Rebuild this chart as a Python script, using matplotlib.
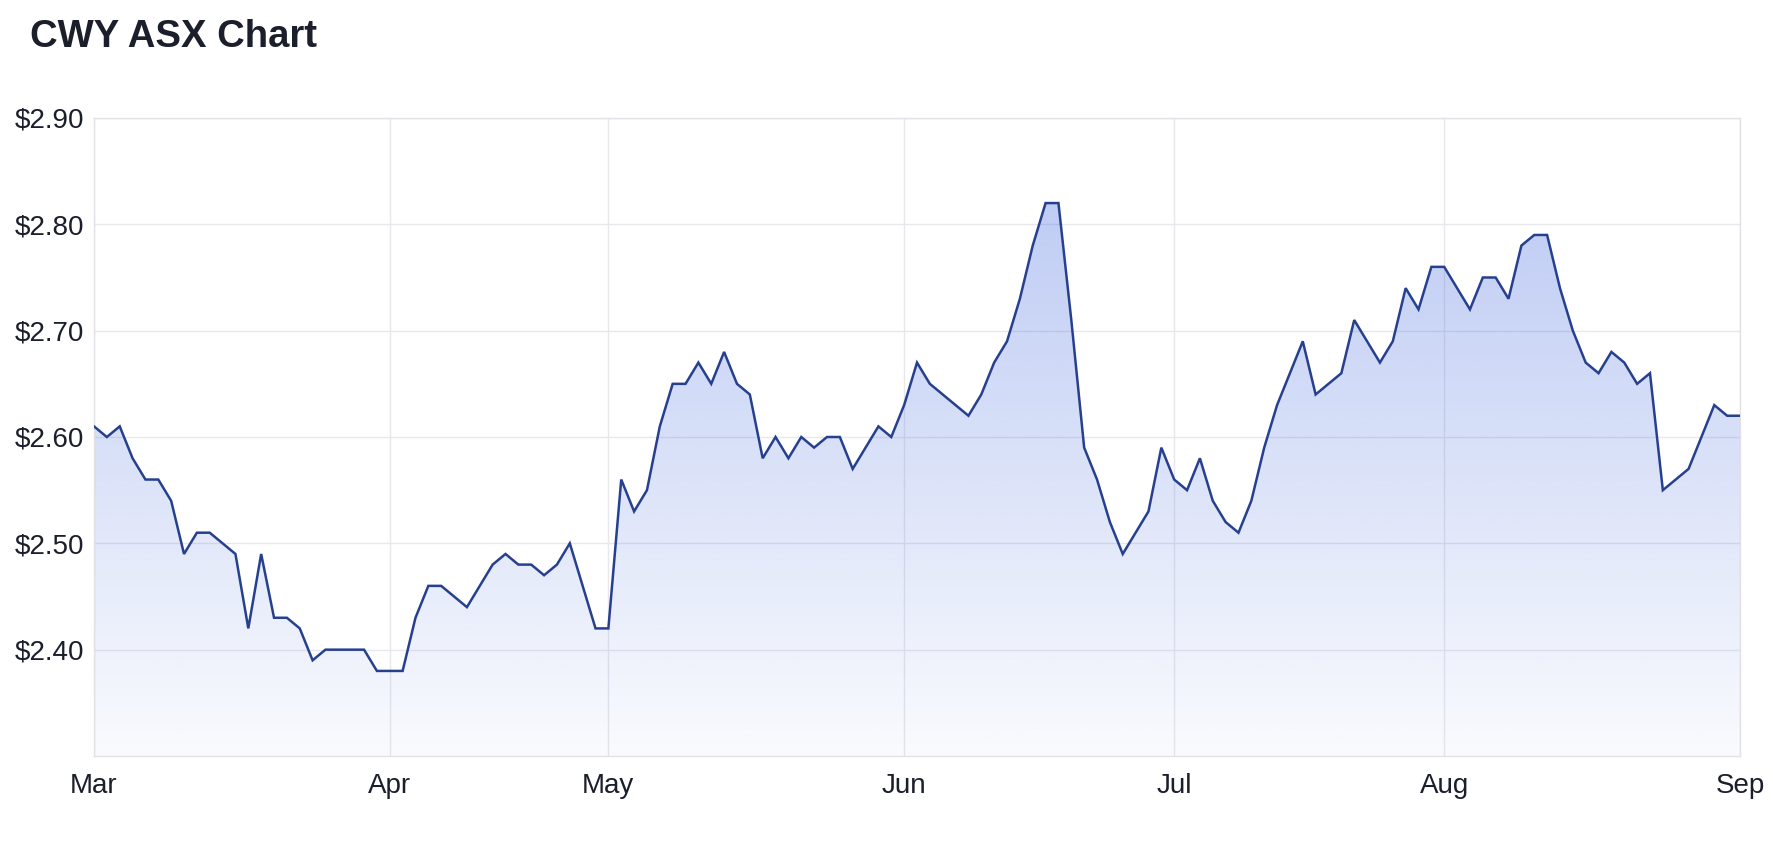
import numpy as np
import pandas as pd
import matplotlib
matplotlib.use("Agg")
import matplotlib.pyplot as plt
from matplotlib.patches import Polygon

# ---- data ----
title = "CWY ASX Chart"
start_date = "2023-03-01"
end_date = "2023-09-01"
asx_holidays = ["2023-04-07", "2023-04-10", "2023-04-25", "2023-06-12"]
prices = [
    2.61, 2.60, 2.61, 2.58, 2.56, 2.56, 2.54, 2.49, 2.51, 2.51,
    2.50, 2.49, 2.42, 2.49, 2.43, 2.43, 2.42, 2.39, 2.40, 2.40,
    2.40, 2.40, 2.38, 2.38, 2.38, 2.43, 2.46, 2.46, 2.45, 2.44,
    2.46, 2.48, 2.49, 2.48, 2.48, 2.47, 2.48, 2.50, 2.46, 2.42,
    2.42, 2.56, 2.53, 2.55, 2.61, 2.65, 2.65, 2.67, 2.65, 2.68,
    2.65, 2.64, 2.58, 2.60, 2.58, 2.60, 2.59, 2.60, 2.60, 2.57,
    2.59, 2.61, 2.60, 2.63, 2.67, 2.65, 2.64, 2.63, 2.62, 2.64,
    2.67, 2.69, 2.73, 2.78, 2.82, 2.82, 2.71, 2.59, 2.56, 2.52,
    2.49, 2.51, 2.53, 2.59, 2.56, 2.55, 2.58, 2.54, 2.52, 2.51,
    2.54, 2.59, 2.63, 2.66, 2.69, 2.64, 2.65, 2.66, 2.71, 2.69,
    2.67, 2.69, 2.74, 2.72, 2.76, 2.76, 2.74, 2.72, 2.75, 2.75,
    2.73, 2.78, 2.79, 2.79, 2.74, 2.70, 2.67, 2.66, 2.68, 2.67,
    2.65, 2.66, 2.55, 2.56, 2.57, 2.60, 2.63, 2.62, 2.62,
]
y_ticks = [2.40, 2.50, 2.60, 2.70, 2.80, 2.90]
y_min, y_max = 2.30, 2.90

# trading days (ASX calendar)
days = pd.bdate_range(start_date, end_date)
days = days[~days.isin(pd.to_datetime(asx_holidays))]
assert len(days) == len(prices)
x = np.arange(len(days))
y = np.array(prices)

# month ticks at first trading day of each month
months = days.to_period("M")
tick_idx = [i for i in range(len(days)) if i == 0 or months[i] != months[i - 1]]
tick_lbl = [days[i].strftime("%b") for i in tick_idx]

# ---- style ----
W, H, DPI = 1774, 842, 100
fig = plt.figure(figsize=(W / DPI, H / DPI), dpi=DPI)
fig.patch.set_facecolor("white")
left, right, top, bottom = 94, 1740, 118, 756
ax = fig.add_axes([left / W, 1 - bottom / H, (right - left) / W, (bottom - top) / H])

text_color = "#1b1e2b"
line_color = "#26408f"
grid_color = "#e8e8ec"
fill_rgb = (62 / 255, 102 / 255, 222 / 255)

ax.set_xlim(x[0], x[-1])
ax.set_ylim(y_min, y_max)

# gradient fill under line
n = 256
grad = np.zeros((n, 1, 4))
grad[..., 0], grad[..., 1], grad[..., 2] = fill_rgb
grad[:, 0, 3] = np.linspace(0.03, 0.38, n)
im = ax.imshow(grad, extent=[x[0], x[-1], y_min, y_max], origin="lower",
               aspect="auto", zorder=1, interpolation="bilinear")
verts = np.column_stack([np.r_[x, x[-1], x[0]], np.r_[y, y_min, y_min]])
clip = Polygon(verts, closed=True, facecolor="none", edgecolor="none",
               transform=ax.transData)
ax.add_patch(clip)
im.set_clip_path(clip)

ax.plot(x, y, color=line_color, lw=1.8, zorder=3, solid_joinstyle="miter")

# grid & axes
ax.set_yticks(y_ticks)
ax.set_yticklabels([f"${v:.2f}" for v in y_ticks])
ax.set_xticks(tick_idx)
ax.set_xticklabels(tick_lbl)
ax.grid(True, color=grid_color, lw=1.0, zorder=0)
ax.set_axisbelow(True)
for s in ax.spines.values():
    s.set_color("#e2e2e6")
    s.set_linewidth(1.0)
ax.tick_params(axis="both", length=0, labelsize=20, colors=text_color)
ax.tick_params(axis="y", pad=7)
ax.tick_params(axis="x", pad=12)
for lbl in ax.get_xticklabels() + ax.get_yticklabels():
    lbl.set_fontfamily(["Liberation Sans", "DejaVu Sans"])

fig.text(30 / W, 1 - 37 / H, title, fontsize=27.5, fontweight="bold",
         color=text_color, va="center", ha="left",
         family=["Liberation Sans", "DejaVu Sans"])

fig.savefig("out.png", dpi=DPI, facecolor="white")
